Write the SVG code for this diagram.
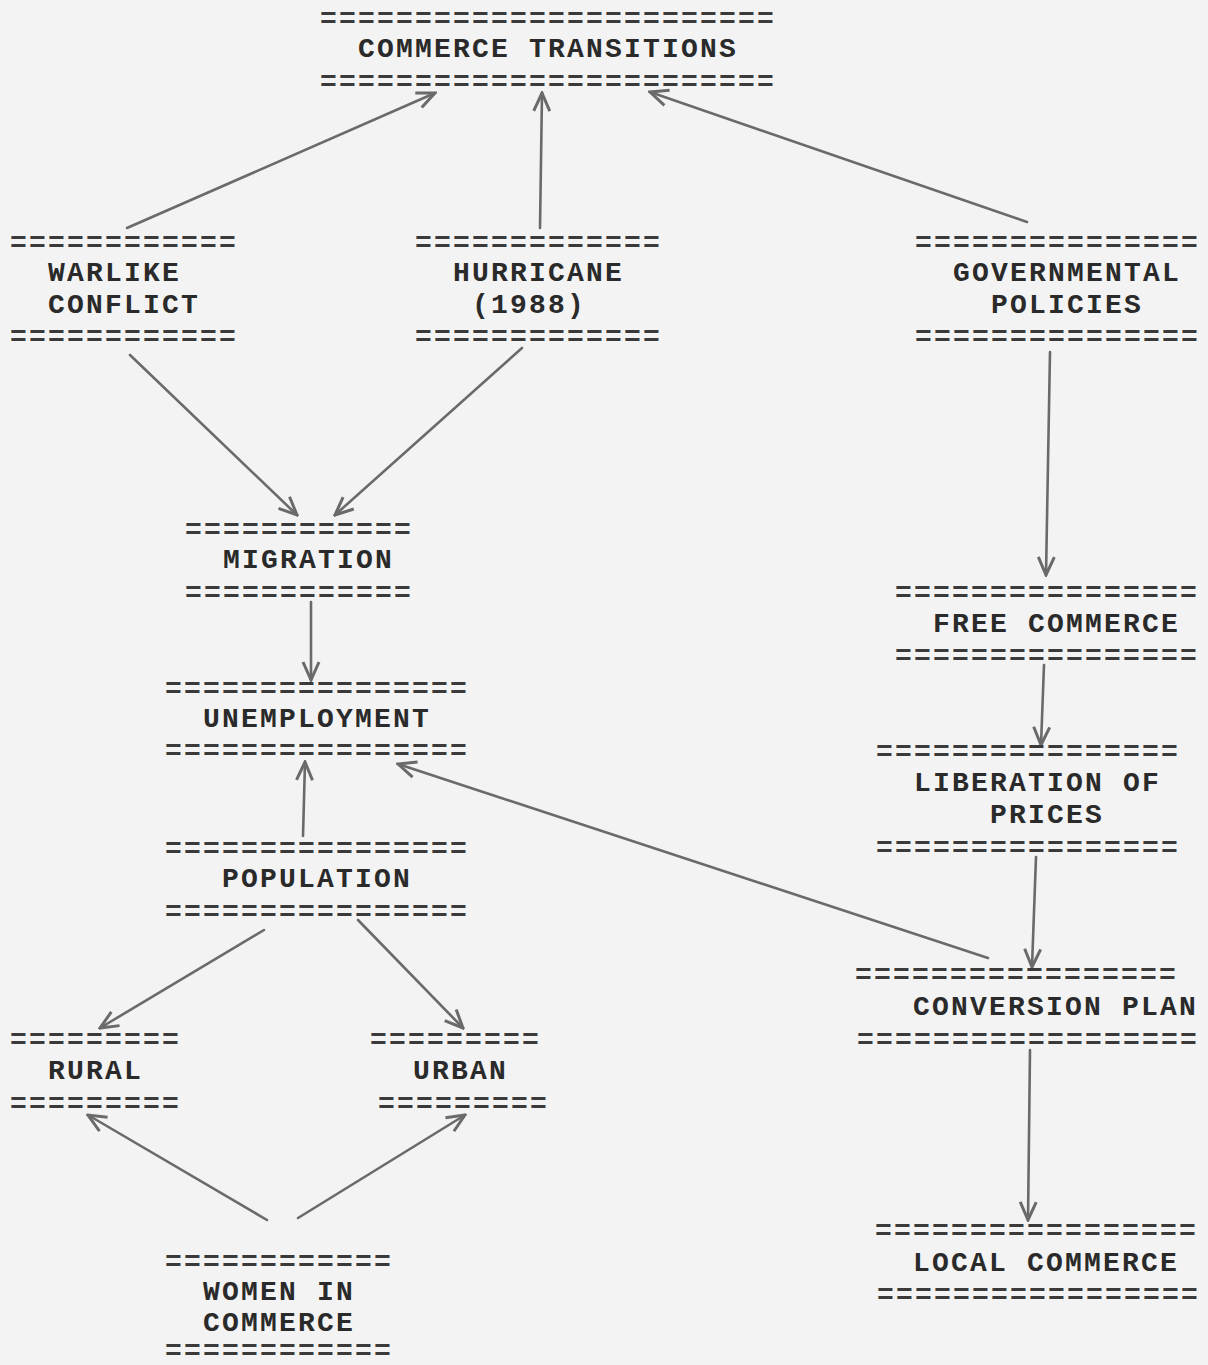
<svg xmlns="http://www.w3.org/2000/svg" width="1208" height="1365" viewBox="0 0 1208 1365">
  <style>
    .t { font-family: "Liberation Mono", "Courier New", monospace; font-size: 28px; letter-spacing: 2.2px; font-weight: bold; fill: #2a2a2a; }
    .e { font-family: "Liberation Mono", "Courier New", monospace; font-size: 28px; letter-spacing: 2.2px; font-weight: bold; fill: #3a3a3a; }
    .c { fill: none; stroke: #6a6a6a; stroke-width: 2.6; stroke-linecap: round; marker-end: url(#head); }
  </style>
  <defs>
    <marker id="head" viewBox="0 0 22 22" refX="20" refY="11" markerWidth="22" markerHeight="22" markerUnits="userSpaceOnUse" orient="auto">
      <path d="M2,3 L20,11 L2,19" fill="none" stroke="#6a6a6a" stroke-width="3" stroke-linejoin="miter"/>
    </marker>
  </defs>
  <rect width="1208" height="1365" fill="#f3f3f3"/>

  <!-- connectors -->
  <g id="connectors">
    <path class="c" d="M127,228 L435,93"/>
    <path class="c" d="M540,228 L542,93"/>
    <path class="c" d="M1027,222 L650,92"/>
    <path class="c" d="M130,355 L297,515"/>
    <path class="c" d="M522,348 L335,515"/>
    <path class="c" d="M1050,352 L1046,575"/>
    <path class="c" d="M311,602 L311,680"/>
    <path class="c" d="M1044,665 L1041,745"/>
    <path class="c" d="M303,836 L305,762"/>
    <path class="c" d="M988,958 L398,764"/>
    <path class="c" d="M1036,857 L1032,967"/>
    <path class="c" d="M264,930 L100,1028"/>
    <path class="c" d="M358,920 L463,1028"/>
    <path class="c" d="M267,1220 L88,1115"/>
    <path class="c" d="M298,1218 L465,1115"/>
    <path class="c" d="M1030,1050 L1028,1220"/>
  </g>

  <!-- nodes -->
  <g id="commerce-transitions">
    <text class="e" x="320" y="27">========================</text>
    <text class="t" x="358" y="57">COMMERCE TRANSITIONS</text>
    <text class="e" x="320" y="90">========================</text>
  </g>
  <g id="warlike-conflict">
    <text class="e" x="10" y="251">============</text>
    <text class="t" x="48" y="281">WARLIKE</text>
    <text class="t" x="48" y="313">CONFLICT</text>
    <text class="e" x="10" y="345">============</text>
  </g>
  <g id="hurricane">
    <text class="e" x="415" y="251">=============</text>
    <text class="t" x="453" y="281">HURRICANE</text>
    <text class="t" x="472" y="313">(1988)</text>
    <text class="e" x="415" y="345">=============</text>
  </g>
  <g id="governmental-policies">
    <text class="e" x="915" y="251">===============</text>
    <text class="t" x="953" y="281">GOVERNMENTAL</text>
    <text class="t" x="991" y="313">POLICIES</text>
    <text class="e" x="915" y="345">===============</text>
  </g>
  <g id="migration">
    <text class="e" x="185" y="538">============</text>
    <text class="t" x="223" y="568">MIGRATION</text>
    <text class="e" x="185" y="601">============</text>
  </g>
  <g id="unemployment">
    <text class="e" x="165" y="697">================</text>
    <text class="t" x="203" y="727">UNEMPLOYMENT</text>
    <text class="e" x="165" y="759">================</text>
  </g>
  <g id="population">
    <text class="e" x="165" y="857">================</text>
    <text class="t" x="222" y="887">POPULATION</text>
    <text class="e" x="165" y="920">================</text>
  </g>
  <g id="rural">
    <text class="e" x="10" y="1048">=========</text>
    <text class="t" x="48" y="1079">RURAL</text>
    <text class="e" x="10" y="1112">=========</text>
  </g>
  <g id="urban">
    <text class="e" x="370" y="1048">=========</text>
    <text class="t" x="413" y="1079">URBAN</text>
    <text class="e" x="378" y="1112">=========</text>
  </g>
  <g id="women-in-commerce">
    <text class="e" x="165" y="1270">============</text>
    <text class="t" x="203" y="1300">WOMEN IN</text>
    <text class="t" x="203" y="1331">COMMERCE</text>
    <text class="e" x="165" y="1359">============</text>
  </g>
  <g id="free-commerce">
    <text class="e" x="895" y="601">================</text>
    <text class="t" x="933" y="632">FREE COMMERCE</text>
    <text class="e" x="895" y="664">================</text>
  </g>
  <g id="liberation-of-prices">
    <text class="e" x="876" y="760">================</text>
    <text class="t" x="914" y="791">LIBERATION OF</text>
    <text class="t" x="990" y="823">PRICES</text>
    <text class="e" x="876" y="856">================</text>
  </g>
  <g id="conversion-plan">
    <text class="e" x="855" y="983">=================</text>
    <text class="t" x="913" y="1015">CONVERSION PLAN</text>
    <text class="e" x="857" y="1048">==================</text>
  </g>
  <g id="local-commerce">
    <text class="e" x="875" y="1239">=================</text>
    <text class="t" x="913" y="1271">LOCAL COMMERCE</text>
    <text class="e" x="877" y="1303">=================</text>
  </g>
</svg>
